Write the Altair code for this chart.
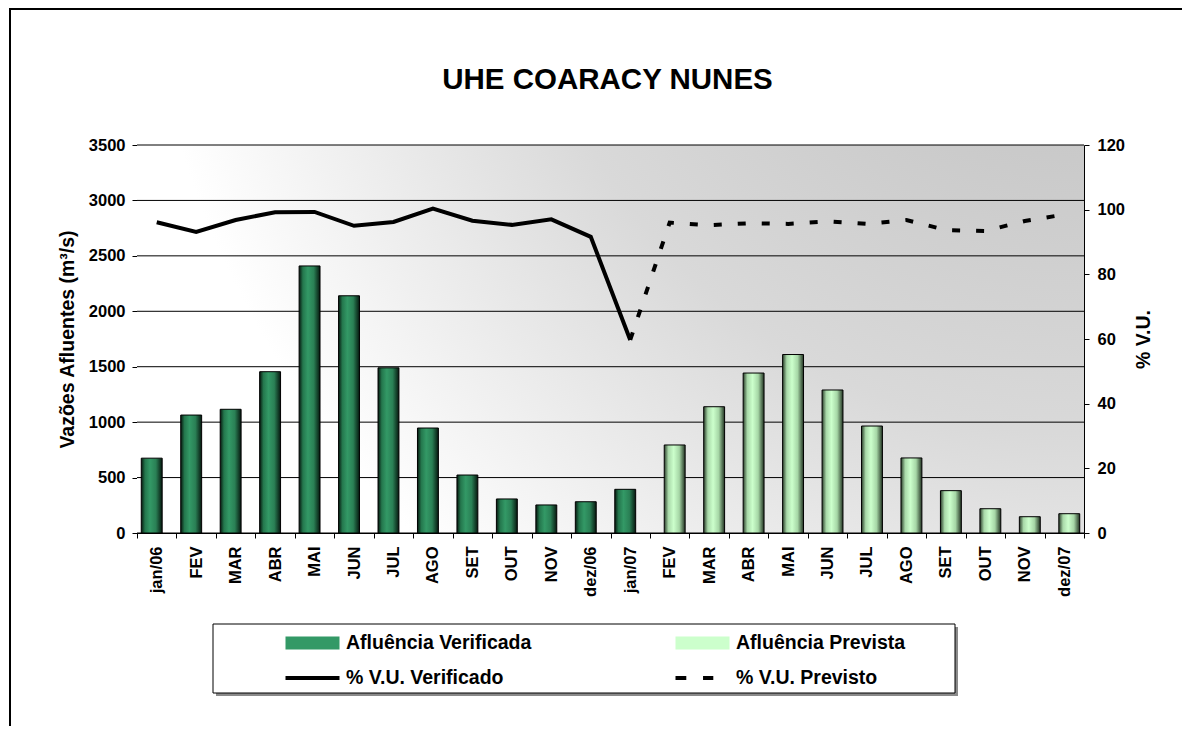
import altair as alt
import pandas as pd

# ---------------- data ----------------
rotulos = ["jan/06", "FEV", "MAR", "ABR", "MAI", "JUN", "JUL", "AGO", "SET", "OUT", "NOV", "dez/06",
           "jan/07", "FEV", "MAR", "ABR", "MAI", "JUN", "JUL", "AGO", "SET", "OUT", "NOV", "dez/07"]
afluencia_verificada = [675, 1064, 1116, 1455, 2409, 2140, 1490, 947, 523, 307, 253, 282, 394]
afluencia_prevista = [794, 1139, 1443, 1610, 1290, 965, 677, 382, 219, 147, 174]
vu_verificado = [96.1, 93.1, 96.8, 99.2, 99.3, 95.0, 96.2, 100.3, 96.6, 95.3, 97.0, 91.6, 59.7]
vu_previsto = [59.7, 96.0, 95.2, 95.8, 95.6, 96.4, 95.6, 96.8, 93.7, 93.4, 96.5, 98.5]
series = ["Afluência Verificada", "Afluência Prevista", "% V.U. Verificado", "% V.U. Previsto"]
vazao_ticks = [0, 500, 1000, 1500, 2000, 2500, 3000, 3500]
vu_ticks = [0, 20, 40, 60, 80, 100, 120]

n_v = len(afluencia_verificada)
df_bv = pd.DataFrame({"i": list(range(n_v)), "vazao": afluencia_verificada})
df_bp = pd.DataFrame({"i": list(range(n_v, n_v + len(afluencia_prevista))), "vazao": afluencia_prevista})
df_lv = pd.DataFrame({"i": list(range(len(vu_verificado))), "vu": vu_verificado})
p0 = len(vu_verificado) - 1
df_lp = pd.DataFrame({"i": list(range(p0, p0 + len(vu_previsto))), "vu": vu_previsto})
df_leg = pd.DataFrame({"serie": series})
df_grid = pd.DataFrame({"vazao": vazao_ticks})

FONT = "Liberation Sans"
W, H = 947, 388

label_expr = "[" + ",".join("'" + r + "'" for r in rotulos) + "][datum.value]"

x_enc = alt.X(
    "i:O",
    scale=alt.Scale(domain=list(range(len(rotulos))), paddingInner=0, paddingOuter=0),
    axis=alt.Axis(labelExpr=label_expr, labelAngle=270, tickBand="extent", labelPadding=8,
                  tickSize=5, grid=False),
    title=None,
)

vazao_scale = alt.Scale(domain=[0, 3500], nice=False)
vazao_axis = alt.Axis(values=vazao_ticks, format="d", grid=False,
                      title="Vazões Afluentes (m³/s)", titlePadding=11, labelPadding=7, tickSize=5)
y_vazao = alt.Y("vazao:Q", scale=vazao_scale, axis=vazao_axis)
y_vu = alt.Y(
    "vu:Q",
    scale=alt.Scale(domain=[0, 120], nice=False),
    axis=alt.Axis(orient="right", values=vu_ticks, grid=False, title="% V.U.",
                  titleAngle=270, titleBaseline="top", titlePadding=10, labelPadding=8, tickSize=5),
)

grad_bg = {"gradient": "radial", "x1": 1, "y1": 0, "r1": 0, "x2": 1, "y2": 0, "r2": 1,
           "stops": [{"offset": 0, "color": "#bababa"}, {"offset": 0.6, "color": "#d9d9d9"},
                     {"offset": 1, "color": "#ffffff"}]}
grad_v = {"gradient": "linear", "x1": 0, "y1": 0, "x2": 1, "y2": 0,
          "stops": [{"offset": 0, "color": "#06180f"}, {"offset": 0.18, "color": "#24774d"},
                    {"offset": 0.42, "color": "#339966"}, {"offset": 0.7, "color": "#2a8055"},
                    {"offset": 1, "color": "#06180f"}]}
grad_p = {"gradient": "linear", "x1": 0, "y1": 0, "x2": 1, "y2": 0,
          "stops": [{"offset": 0, "color": "#2a3d2a"}, {"offset": 0.2, "color": "#a9d9a9"},
                    {"offset": 0.45, "color": "#ccffcc"}, {"offset": 0.72, "color": "#a6d6a6"},
                    {"offset": 1, "color": "#223322"}]}

one_row = alt.Data(values=[{"k": 1}])

# outer chart-area border (only its top and left edges fall inside the picture)
frame = alt.Chart(one_row).mark_rect(
    fillOpacity=0, stroke="black", strokeWidth=2
).encode(x=alt.value(-127), x2=alt.value(W + 600), y=alt.value(-136), y2=alt.value(H + 600))

# plot-area gradient background
background = alt.Chart(one_row).mark_rect(fill=grad_bg).encode(
    x=alt.value(0), x2=alt.value("width"), y=alt.value(0), y2=alt.value("height"))

# horizontal gridlines at the left-axis ticks (behind the bars)
grid = alt.Chart(df_grid).mark_rule(color="black", strokeWidth=1).encode(
    y=y_vazao, x=alt.value(0), x2=alt.value("width"))

bars_v = alt.Chart(df_bv).mark_bar(
    fill=grad_v, stroke="black", strokeWidth=1, width={"band": 0.53}, xOffset=-5
).encode(x=x_enc, y=y_vazao)

bars_p = alt.Chart(df_bp).mark_bar(
    fill=grad_p, stroke="black", strokeWidth=1, width={"band": 0.53}, xOffset=5
).encode(x=x_enc, y=y_vazao)

# legend frame with drop shadow
legend_shadow = alt.Chart(one_row).mark_rect(fill="#8a8a8a").encode(
    x=alt.value(79), x2=alt.value(821), y=alt.value(482), y2=alt.value(551))
legend_box = alt.Chart(one_row).mark_rect(fill="white", stroke="black", strokeWidth=1).encode(
    x=alt.value(76), x2=alt.value(818), y=alt.value(479), y2=alt.value(548))

line_v = alt.Chart(df_lv).mark_line(color="black", strokeWidth=4).encode(x=x_enc, y=y_vu)
line_p = alt.Chart(df_lp).mark_line(color="black", strokeWidth=4, strokeDash=[8, 16]).encode(x=x_enc, y=y_vu)

shape_range = [
    "M-1,-0.24H1V0.24H-1Z",
    "M-1,-0.24H1V0.24H-1Z",
    "M-1,-0.074H1V0.074H-1Z",
    "M-1,-0.074H-0.6V0.074H-1Z M0.02,-0.074H0.4V0.074H0.02Z",
]
leg = alt.Legend(
    orient="none", legendX=148, legendY=486, direction="horizontal", columns=2,
    columnPadding=143, rowPadding=11, clipHeight=24, symbolSize=2916, symbolOpacity=1,
    symbolStrokeColor="black", symbolStrokeWidth=0.8,
    labelFont=FONT, labelFontWeight="bold", labelFontSize=19.5, labelColor="black", labelOffset=6,
    labelLimit=0, title=None, padding=0,
)
legend_layer = alt.Chart(df_leg).mark_point(filled=True, opacity=0).encode(
    color=alt.Color("serie:N", scale=alt.Scale(domain=series, range=["#339966", "#ccffcc", "black", "black"]),
                    legend=leg),
    shape=alt.Shape("serie:N", scale=alt.Scale(domain=series, range=shape_range), legend=leg),
)

left = alt.layer(frame, background, grid, bars_v, bars_p, legend_shadow, legend_box)
right = alt.layer(line_v, line_p, legend_layer)

chart = alt.layer(left, right).resolve_scale(y="independent").properties(
    width=W, height=H,
    title=alt.Title("UHE COARACY NUNES", fontSize=29.5, fontWeight="bold", font=FONT, color="black",
                    anchor="middle", frame="group", baseline="alphabetic", offset=-110, dx=-3),
    padding={"left": 129, "top": 137, "right": 98, "bottom": 193},
    autosize=alt.AutoSizeParams(type="none"),
    background="white",
).configure_view(
    stroke=None
).configure_axis(
    labelFont=FONT, labelFontWeight="bold", labelFontSize=16.5, labelColor="black",
    titleFont=FONT, titleFontWeight="bold", titleFontSize=19.5, titleColor="black",
    domainColor="black", tickColor="black", domainWidth=1,
)

chart.save("out.html", embed_options={"renderer": "svg", "actions": False})
